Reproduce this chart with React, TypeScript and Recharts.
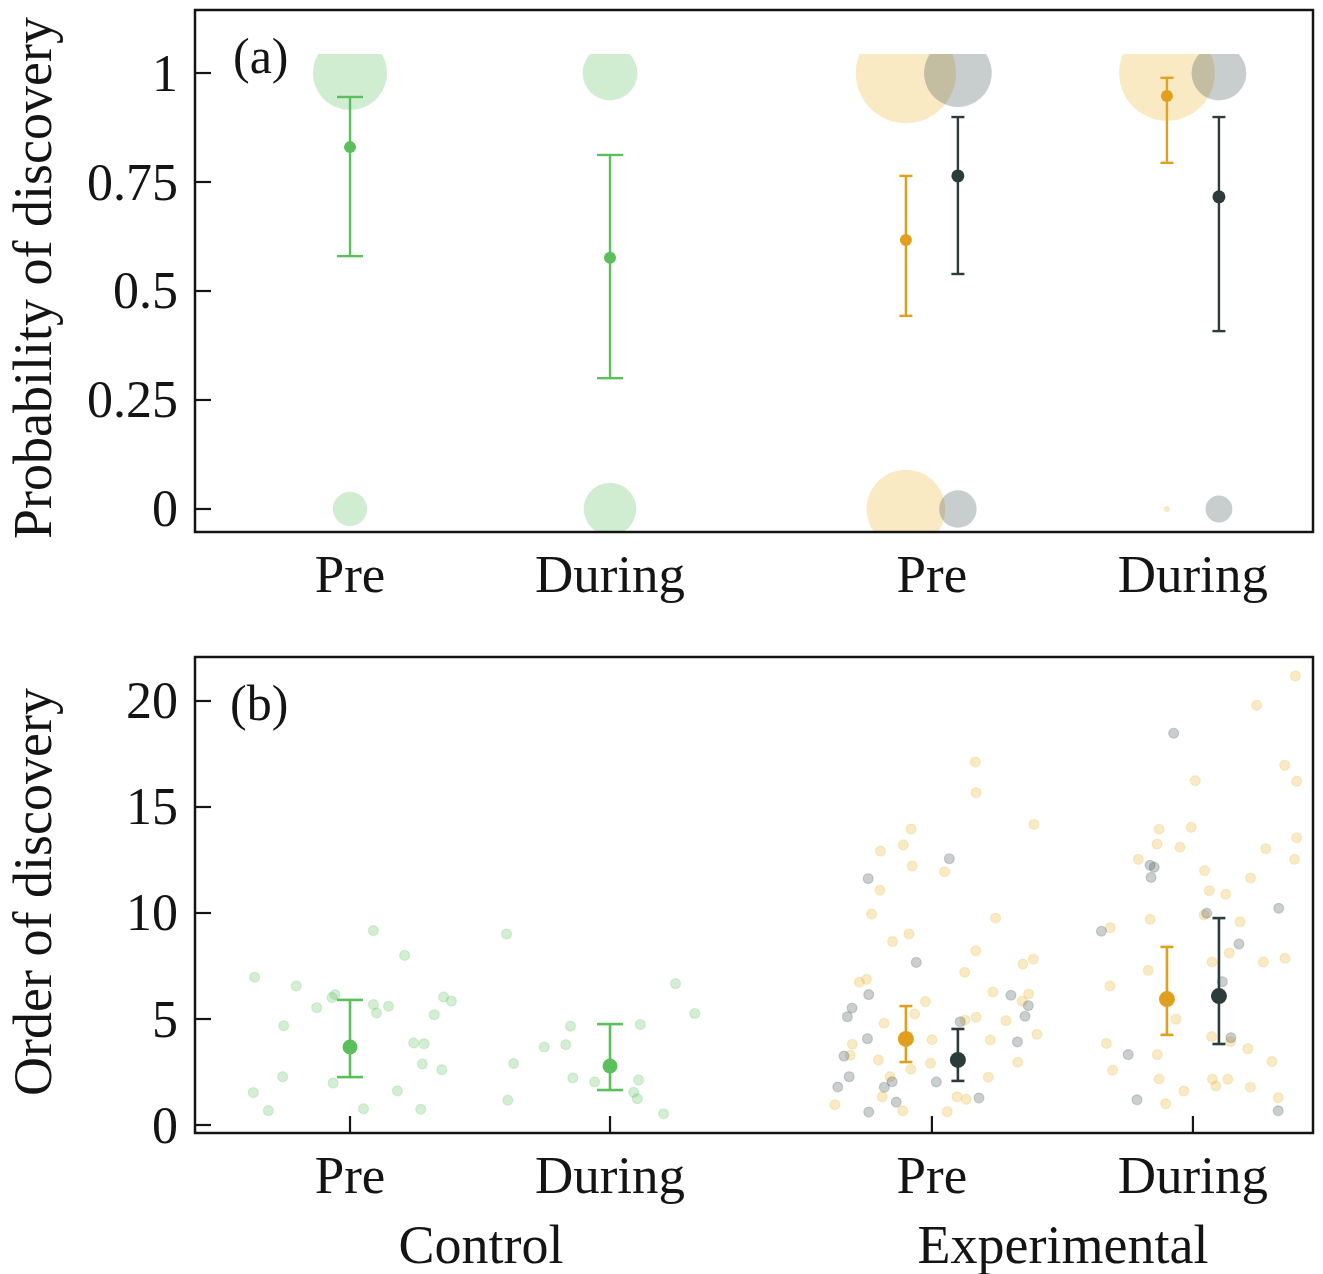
import React from 'react';
import { ComposedChart, Scatter, XAxis, YAxis, ErrorBar } from 'recharts';

// ---------- shared categories ----------
const categoryLabels = ['Pre', 'During', 'Pre', 'During'];
const categoryX = [1, 2, 3.238, 4.242];
const dodge = 0.1;
const groupLabels = ['Control', 'Experimental'];
const xDomain = [0.4038, 4.7038];

// ---------- panel (a): probability of discovery ----------
const probTicks = [0, 0.25, 0.5, 0.75, 1];
const probTickLabels = ['0', '0.25', '0.5', '0.75', '1'];
const probDomain = [-0.0528, 1.0436];

const probControlMean = [0.83, 0.576];
const probControlLo = [0.58, 0.3];
const probControlHi = [0.945, 0.812];

const probExpCueMean = [0.617, 0.947];
const probExpCueLo = [0.443, 0.794];
const probExpCueHi = [0.764, 0.989];

const probExpOtherMean = [0.764, 0.716];
const probExpOtherLo = [0.539, 0.408];
const probExpOtherHi = [0.899, 0.899];

// counts of discovered (1) / not discovered (0)
const controlFound = [24, 13];
const controlMissed = [5, 12];
const expCueFound = [44, 40];
const expCueMissed = [27, 0];
const expOtherFound = [20, 13];
const expOtherMissed = [6, 3];

// ---------- panel (b): order of discovery ----------
const orderTicks = [0, 5, 10, 15, 20];
const orderTickLabels = ['0', '5', '10', '15', '20'];
const orderDomain = [-0.377, 22.075];

const orderControlMean = [3.68, 2.78];
const orderControlLo = [2.26, 1.65];
const orderControlHi = [5.9, 4.76];

const orderExpCueMean = [4.06, 5.94];
const orderExpCueLo = [2.97, 4.25];
const orderExpCueHi = [5.61, 8.4];

const orderExpOtherMean = [3.07, 6.08];
const orderExpOtherLo = [2.08, 3.82];
const orderExpOtherHi = [4.53, 9.76];

const obsControlPre: [number, number][] = [
  [0.633, 6.97], [0.793, 6.56], [0.942, 6.15], [0.931, 6.01], [1.09, 9.17], [1.21, 8.0], [0.872, 5.53],
  [1.09, 5.68], [1.148, 5.6], [1.102, 5.28], [1.36, 6.04], [1.39, 5.85], [1.324, 5.2], [0.745, 4.68],
  [1.245, 3.87], [1.285, 3.83], [1.278, 2.88], [1.353, 2.61], [0.741, 2.28], [0.935, 1.98], [0.628, 1.53],
  [1.182, 1.61], [0.686, 0.68], [1.052, 0.77], [1.272, 0.74],
];
const obsControlDuring: [number, number][] = [
  [1.602, 9.01], [2.252, 6.67], [2.326, 5.26], [1.848, 4.66], [2.117, 4.74], [1.747, 3.68], [1.83, 3.79],
  [1.629, 2.9], [1.857, 2.22], [1.941, 2.03], [2.11, 2.12], [2.091, 1.54], [2.105, 1.24], [1.607, 1.17],
  [2.206, 0.53],
];
const obsExpCuePre: [number, number][] = [
  [3.405, 17.12], [3.408, 15.67], [3.63, 14.18], [3.158, 13.96], [3.04, 12.92], [3.128, 13.21], [3.162, 12.22],
  [3.287, 11.95], [3.038, 11.07], [3.006, 9.95], [3.483, 9.76], [3.15, 9.01], [3.087, 8.65], [3.407, 8.22],
  [3.364, 7.2], [3.588, 7.59], [3.628, 7.82], [2.959, 6.73], [2.987, 6.87], [3.473, 6.27], [3.61, 6.18],
  [3.585, 5.85], [3.213, 5.82], [3.054, 4.8], [3.172, 5.24], [3.365, 4.94], [3.408, 5.08], [3.523, 4.92],
  [2.932, 3.81], [3.238, 4.02], [3.463, 4.01], [3.642, 4.28], [2.924, 3.29], [3.032, 3.07], [3.233, 2.91],
  [3.157, 2.63], [3.568, 2.96], [3.077, 2.28], [3.455, 2.25], [3.047, 1.33], [3.335, 1.33], [3.37, 1.21],
  [2.865, 0.96], [3.126, 0.67], [3.297, 0.63],
];
const obsExpOtherPre: [number, number][] = [
  [3.305, 12.56], [2.993, 11.62], [3.178, 7.67], [2.995, 6.15], [3.542, 6.12], [3.609, 5.63], [2.931, 5.52],
  [2.913, 5.11], [3.347, 4.87], [3.596, 5.13], [2.99, 4.07], [3.567, 3.92], [2.9, 3.25], [2.92, 2.28],
  [3.255, 2.03], [3.085, 2.04], [3.055, 1.78], [2.876, 1.79], [3.419, 1.27], [3.101, 1.08], [2.995, 0.61],
];
const obsExpCueDuring: [number, number][] = [
  [4.636, 21.18], [4.487, 19.8], [4.595, 16.97], [4.641, 16.21], [4.251, 16.24], [4.112, 13.95], [4.235, 14.04],
  [4.104, 13.25], [4.192, 13.1], [4.641, 13.55], [4.522, 13.03], [4.633, 12.53], [4.032, 12.53], [4.287, 12.0],
  [4.464, 11.65], [4.305, 11.05], [4.368, 10.88], [4.285, 9.91], [4.077, 9.7], [4.423, 9.59], [3.924, 9.31],
  [4.382, 8.11], [4.315, 7.69], [4.513, 7.69], [4.596, 7.86], [4.07, 7.3], [3.923, 6.56], [4.177, 4.99],
  [4.314, 4.17], [4.387, 3.93], [3.909, 3.85], [4.453, 3.6], [4.105, 3.32], [4.546, 2.99], [3.933, 2.58],
  [4.112, 2.17], [4.317, 2.16], [4.33, 1.84], [4.376, 2.16], [4.463, 1.78], [4.207, 1.6], [4.137, 1.0],
  [4.57, 1.29],
];
const obsExpOtherDuring: [number, number][] = [
  [4.168, 18.48], [4.077, 12.25], [4.093, 12.16], [4.081, 11.68], [4.572, 10.22], [4.295, 9.99], [3.89, 9.14],
  [4.419, 8.54], [4.355, 6.76], [4.388, 4.12], [3.993, 3.32], [4.027, 1.19], [4.57, 0.67],
];

// ---------- styles ----------
const GREEN = '#5bbf5b';
const ORANGE = '#e19f1e';
const DARK = '#2c3c3c';
const LIGHT_ORANGE = '#e8b22c';
const LIGHT_DARK = '#3a4a4a';
const INK = '#141414';
const FONT = "'Liberation Serif', 'Times New Roman', serif";
const FS = 52;
const FS_TITLE = 54;

// layout of panel (a) plotting region (pixels)
const A_TOP = 54;
const A_BOTTOM = 532;

// ---------- table builders ----------
const controlX = [categoryX[0], categoryX[1]];
const cueX = [categoryX[2] - dodge, categoryX[3] - dodge];
const otherX = [categoryX[2] + dodge, categoryX[3] + dodge];

const meanRows = (xs: number[], mean: number[], lo: number[], hi: number[]) =>
  xs.map((x, i) => ({ x, y: mean[i], err: [mean[i] - lo[i], hi[i] - mean[i]] }));

const countRows = (xs: number[], found: number[], missed: number[]) => [
  ...xs.map((x, i) => ({ x, y: 1, n: found[i] })),
  ...xs.map((x, i) => ({ x, y: 0, n: missed[i] })),
];

const obsRows = (pts: [number, number][]) => pts.map(([x, y]) => ({ x, y }));

// circle clipped to the plotting region's top / bottom edge
function clippedCirclePath(cx: number, cy: number, r: number, top: number, bottom: number): string {
  if (cy - r < top && top < cy + r) {
    const w = Math.sqrt(r * r - (cy - top) * (cy - top));
    const large = top < cy ? 1 : 0;
    return `M ${cx - w} ${top} L ${cx + w} ${top} A ${r} ${r} 0 ${large} 1 ${cx - w} ${top} Z`;
  }
  if (cy + r > bottom && bottom > cy - r) {
    const w = Math.sqrt(r * r - (bottom - cy) * (bottom - cy));
    const large = bottom > cy ? 1 : 0;
    return `M ${cx + w} ${bottom} L ${cx - w} ${bottom} A ${r} ${r} 0 ${large} 1 ${cx + w} ${bottom} Z`;
  }
  return `M ${cx - r} ${cy} A ${r} ${r} 0 1 1 ${cx + r} ${cy} A ${r} ${r} 0 1 1 ${cx - r} ${cy} Z`;
}

// ---------- shapes ----------
const bubble = (color: string) => (p: any) =>
  p.cx == null ? <g /> : (
    <path
      d={clippedCirclePath(p.cx, p.cy, Math.sqrt(9 + 57 * p.payload.n), A_TOP, A_BOTTOM)}
      fill={color} fillOpacity={0.28}
    />
  );

const dot = (color: string, r: number) => (p: any) =>
  p.cx == null ? <g /> : <circle cx={p.cx} cy={p.cy} r={r} fill={color} />;

const faint = (color: string) => (p: any) =>
  p.cx == null ? <g /> : (
    <circle cx={p.cx} cy={p.cy} r={5} fill={color} fillOpacity={0.27} stroke={color} strokeOpacity={0.2} strokeWidth={1.2} />
  );

// ---------- ticks ----------
const makeYTick = (values: number[], labels: string[]) => (p: any) => {
  const idx = values.indexOf(p.payload.value);
  return (
    <g>
      <text x={p.x} y={p.y} textAnchor="end" dominantBaseline="central" fontSize={FS} fontFamily={FONT} fill={INK}>
        {idx >= 0 ? labels[idx] : p.payload.value}
      </text>
      <line x1={p.x + 17} x2={p.x + 33} y1={p.y} y2={p.y} stroke={INK} strokeWidth={2.2} />
    </g>
  );
};

const makeXTick = (withMark: boolean) => (p: any) => {
  const idx = categoryX.indexOf(p.payload.value);
  return (
    <g>
      <text x={p.x} y={p.y} dy="0.71em" textAnchor="middle" fontSize={53} fontFamily={FONT} fill={INK}>
        {idx >= 0 ? categoryLabels[idx] : ''}
      </text>
      {withMark && <line x1={p.x} x2={p.x} y1={p.y - 22} y2={p.y - 39} stroke={INK} strokeWidth={2.2} />}
    </g>
  );
};

const W = 1323;

function PanelA() {
  return (
    <ComposedChart width={W} height={620} margin={{ top: A_TOP, right: 10, left: 0, bottom: 0 }}>
      <XAxis
        dataKey="x" type="number" domain={xDomain} ticks={categoryX} interval={0} allowDataOverflow
        axisLine={false} tickLine={false} tickSize={0} tickMargin={22} height={620 - A_BOTTOM} tick={makeXTick(false)}
      />
      <YAxis
        type="number" domain={probDomain} ticks={probTicks} interval={0} allowDataOverflow
        axisLine={false} tickLine={false} tickSize={0} tickMargin={17} width={195}
        tick={makeYTick(probTicks, probTickLabels)}
      />
      <Scatter data={countRows(controlX, controlFound, controlMissed)} dataKey="y" shape={bubble(GREEN)} isAnimationActive={false} />
      <Scatter data={countRows(cueX, expCueFound, expCueMissed)} dataKey="y" shape={bubble(LIGHT_ORANGE)} isAnimationActive={false} />
      <Scatter data={countRows(otherX, expOtherFound, expOtherMissed)} dataKey="y" shape={bubble(LIGHT_DARK)} isAnimationActive={false} />
      <Scatter data={meanRows(controlX, probControlMean, probControlLo, probControlHi)} dataKey="y" shape={dot(GREEN, 6)} isAnimationActive={false}>
        <ErrorBar dataKey="err" direction="y" width={13} stroke={GREEN} strokeWidth={2.4} isAnimationActive={false} />
      </Scatter>
      <Scatter data={meanRows(cueX, probExpCueMean, probExpCueLo, probExpCueHi)} dataKey="y" shape={dot(ORANGE, 6)} isAnimationActive={false}>
        <ErrorBar dataKey="err" direction="y" width={6.5} stroke={ORANGE} strokeWidth={2.4} isAnimationActive={false} />
      </Scatter>
      <Scatter data={meanRows(otherX, probExpOtherMean, probExpOtherLo, probExpOtherHi)} dataKey="y" shape={dot(DARK, 6.5)} isAnimationActive={false}>
        <ErrorBar dataKey="err" direction="y" width={6.5} stroke={DARK} strokeWidth={2.4} isAnimationActive={false} />
      </Scatter>
    </ComposedChart>
  );
}

function PanelB() {
  return (
    <ComposedChart width={W} height={654} margin={{ top: 37, right: 10, left: 0, bottom: 0 }}>
      <XAxis
        dataKey="x" type="number" domain={xDomain} ticks={categoryX} interval={0} allowDataOverflow
        axisLine={false} tickLine={false} tickSize={0} tickMargin={22} height={141} tick={makeXTick(true)}
      />
      <YAxis
        type="number" domain={orderDomain} ticks={orderTicks} interval={0} allowDataOverflow
        axisLine={false} tickLine={false} tickSize={0} tickMargin={17} width={195}
        tick={makeYTick(orderTicks, orderTickLabels)}
      />
      <Scatter data={obsRows(obsControlPre)} dataKey="y" shape={faint(GREEN)} isAnimationActive={false} />
      <Scatter data={obsRows(obsControlDuring)} dataKey="y" shape={faint(GREEN)} isAnimationActive={false} />
      <Scatter data={obsRows(obsExpCuePre)} dataKey="y" shape={faint(LIGHT_ORANGE)} isAnimationActive={false} />
      <Scatter data={obsRows(obsExpCueDuring)} dataKey="y" shape={faint(LIGHT_ORANGE)} isAnimationActive={false} />
      <Scatter data={obsRows(obsExpOtherPre)} dataKey="y" shape={faint(LIGHT_DARK)} isAnimationActive={false} />
      <Scatter data={obsRows(obsExpOtherDuring)} dataKey="y" shape={faint(LIGHT_DARK)} isAnimationActive={false} />
      <Scatter data={meanRows(controlX, orderControlMean, orderControlLo, orderControlHi)} dataKey="y" shape={dot(GREEN, 7.5)} isAnimationActive={false}>
        <ErrorBar dataKey="err" direction="y" width={13} stroke={GREEN} strokeWidth={2.6} isAnimationActive={false} />
      </Scatter>
      <Scatter data={meanRows(cueX, orderExpCueMean, orderExpCueLo, orderExpCueHi)} dataKey="y" shape={dot(ORANGE, 8)} isAnimationActive={false}>
        <ErrorBar dataKey="err" direction="y" width={6.5} stroke={ORANGE} strokeWidth={2.6} isAnimationActive={false} />
      </Scatter>
      <Scatter data={meanRows(otherX, orderExpOtherMean, orderExpOtherLo, orderExpOtherHi)} dataKey="y" shape={dot(DARK, 8)} isAnimationActive={false}>
        <ErrorBar dataKey="err" direction="y" width={6.5} stroke={DARK} strokeWidth={2.6} isAnimationActive={false} />
      </Scatter>
    </ComposedChart>
  );
}

export default function App() {
  const titleStyle = { fontFamily: FONT, fontSize: FS_TITLE, fill: INK } as const;
  return (
    <div style={{ position: 'absolute', left: 0, top: 0, width: W, height: 1274, background: '#fff' }}>
      <div style={{ position: 'absolute', left: 0, top: 0 }}>
        <PanelA />
      </div>
      <div style={{ position: 'absolute', left: 0, top: 620 }}>
        <PanelB />
      </div>
      <svg width={W} height={1274} style={{ position: 'absolute', left: 0, top: 0, pointerEvents: 'none' }}>
        <rect x={195} y={10} width={1118} height={522} fill="none" stroke={INK} strokeWidth={2.5} />
        <rect x={195} y={657} width={1118} height={476} fill="none" stroke={INK} strokeWidth={2.5} />
        <text x={233} y={73} fontFamily={FONT} fontSize={50} fill={INK}>(a)</text>
        <text x={230} y={720} fontFamily={FONT} fontSize={50} fill={INK}>(b)</text>
        <text x={51} y={278} textAnchor="middle" transform="rotate(-90 51 278)" {...titleStyle}>
          Probability of discovery
        </text>
        <text x={51} y={892} textAnchor="middle" transform="rotate(-90 51 892)" {...titleStyle}>
          Order of discovery
        </text>
        <text x={481} y={1263} textAnchor="middle" {...titleStyle}>{groupLabels[0]}</text>
        <text x={1063} y={1263} textAnchor="middle" {...titleStyle}>{groupLabels[1]}</text>
      </svg>
    </div>
  );
}
